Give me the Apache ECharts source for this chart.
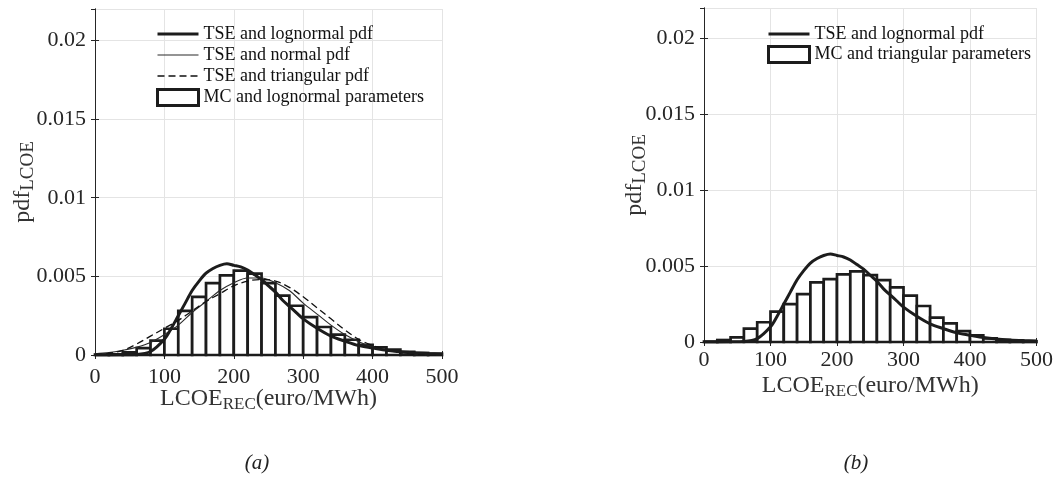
<!DOCTYPE html>
<html>
<head>
<meta charset="utf-8">
<script src="https://cdn.jsdelivr.net/npm/echarts@6/dist/echarts.min.js"></script>
<style>
  html, body { margin: 0; padding: 0; background: #ffffff; }
  #chart { width: 1056px; height: 479px; }
</style>
</head>
<body>
<div id="chart"></div>
<script>
// Histogram bin edges (euro/MWh), shared by both panels
const binEdges = [0, 20, 40, 60, 80, 100, 120, 140, 160, 180, 200, 220, 240,
                  260, 280, 300, 320, 340, 360, 380, 400, 420, 440, 460, 480, 500];

// Monte Carlo histograms (pdf height per bin)
const mcLognormalParams = [0.00003, 0.00004, 0.00017, 0.00044, 0.00091, 0.00167, 0.0028, 0.0037,
                           0.00457, 0.00506, 0.00536, 0.00517, 0.00457, 0.00377, 0.00313, 0.00241,
                           0.00178, 0.00129, 0.00097, 0.00065, 0.00048, 0.00034, 0.0002, 0.00013, 0.00008];
const mcTriangularParams = [0.00003, 0.00013, 0.0003, 0.00088, 0.0013, 0.002, 0.0025, 0.00316,
                            0.00393, 0.00414, 0.00445, 0.00465, 0.00441, 0.00408, 0.0036, 0.00305,
                            0.00237, 0.0016, 0.00123, 0.00072, 0.00044, 0.00024, 0.00013, 0.0001, 0.00005];

// TSE lognormal pdf (finer sampling around the mode)
const lognormalX = [0, 20, 40, 60, 80, 100, 110, 120, 130, 140, 150, 160, 170, 180, 190, 200,
                    210, 220, 230, 240, 250, 260, 270, 280, 290, 300,
                    320, 340, 360, 380, 400, 420, 440, 460, 480, 500];
const lognormalPdf = [0, 0, 0.00001, 0.00003, 0.00022, 0.001, 0.0017, 0.0025, 0.0033, 0.0041, 0.0047,
                      0.0052, 0.0055, 0.0057, 0.0058, 0.0057, 0.0056, 0.0054, 0.0051, 0.0048, 0.0044,
                      0.004, 0.0035, 0.0031, 0.0027, 0.0023,
                      0.0017, 0.0012, 0.00088, 0.0006, 0.00045, 0.0003, 0.0002, 0.00014, 0.0001, 0.00007];

// TSE normal and triangular pdfs
const pdfX = [0, 20, 40, 60, 80, 100, 120, 140, 160, 180, 200, 220, 240,
              260, 280, 300, 320, 340, 360, 380, 400, 420, 440, 460, 480, 500];
const normalPdf = [0.00008, 0.00015, 0.0003, 0.0005, 0.0008, 0.0013, 0.0019, 0.0027, 0.0034, 0.0041,
                   0.0046, 0.0049, 0.0049, 0.0046, 0.0041, 0.0033, 0.0026, 0.0019, 0.0013, 0.00085,
                   0.00052, 0.0003, 0.00016, 0.00008, 0.00004, 0.00002];
const triangularPdf = [0.00002, 0.0001, 0.0003, 0.0007, 0.0012, 0.0017, 0.0022, 0.0028, 0.0034, 0.0039,
                       0.0044, 0.0047, 0.0048, 0.0047, 0.0043, 0.0037, 0.003, 0.0023, 0.0016, 0.001,
                       0.0006, 0.0003, 0.00015, 0.00006, 0.00002, 0];

// Axis ticks
const xTickStep = 100;
const yTickStep = 0.005;
const xRange = [0, 500];
const yRange = [0, 0.022];

const SERIF = 'Liberation Serif';
const AXIS_COLOR = '#262626';
const INK = '#1c1c1c';

const pairs = (xs, ys) => xs.map((x, i) => [x, ys[i]]);
const bins = (heights) => heights.map((h, i) => [binEdges[i], binEdges[i + 1], h]);

function renderBin(params, api) {
  const p0 = api.coord([api.value(0), 0]);
  const p1 = api.coord([api.value(1), api.value(2)]);
  return {
    type: 'rect',
    shape: { x: p0[0], y: p1[1], width: p1[0] - p0[0], height: p0[1] - p1[1] },
    style: { fill: '#ffffff', stroke: INK, lineWidth: 2.7 }
  };
}

const xNameRich = {
  m: { fontFamily: SERIF, fontSize: 24, color: '#333333', lineHeight: 28 },
  s: { fontFamily: SERIF, fontSize: 17, color: '#333333', lineHeight: 28, padding: [11, 0, 0, 0] }
};
const yNameRich = {
  m: { fontFamily: SERIF, fontSize: 24, color: '#333333', lineHeight: 28 },
  s: { fontFamily: SERIF, fontSize: 19, color: '#333333', lineHeight: 28, padding: [10, 0, 0, 0] }
};

function xAxes(gridIndex, labelMargin, nameGap) {
  const base = {
    gridIndex, type: 'value', min: xRange[0], max: xRange[1], interval: xTickStep,
    axisLine: { show: true, lineStyle: { color: AXIS_COLOR, width: 1 } },
    axisTick: { show: true, inside: true, length: 4, lineStyle: { color: AXIS_COLOR } }
  };
  return [
    Object.assign({}, base, {
      position: 'bottom',
      axisLabel: { fontFamily: SERIF, fontSize: 22, color: AXIS_COLOR, margin: labelMargin },
      splitLine: { show: true, lineStyle: { color: '#e4e4e4', width: 1 } },
      name: '{m|LCOE}{s|REC}{m|(euro/MWh)}',
      nameLocation: 'middle', nameGap, nameMoveOverlap: false,
      nameTextStyle: { rich: xNameRich }
    }),
    Object.assign({}, base, {
      position: 'top', axisLabel: { show: false }, splitLine: { show: false }
    })
  ];
}

function yAxes(gridIndex, nameGap) {
  const base = {
    gridIndex, type: 'value', min: yRange[0], max: yRange[1], interval: yTickStep,
    axisLine: { show: true, lineStyle: { color: AXIS_COLOR, width: 1 } },
    axisTick: { show: true, inside: true, length: 4, lineStyle: { color: AXIS_COLOR } }
  };
  return [
    Object.assign({}, base, {
      position: 'left',
      axisLabel: {
        fontFamily: SERIF, fontSize: 22, color: AXIS_COLOR, margin: 9, showMaxLabel: false,
        formatter: (v) => (v === 0 ? '0' : String(+v.toFixed(3)))
      },
      splitLine: { show: true, lineStyle: { color: '#e4e4e4', width: 1 } },
      name: '{m|pdf}{s|LCOE}',
      nameLocation: 'middle', nameRotate: 90, nameGap, nameMoveOverlap: false,
      nameTextStyle: { rich: yNameRich }
    }),
    Object.assign({}, base, {
      position: 'right', axisLabel: { show: false }, splitLine: { show: false }
    })
  ];
}

const legendText = { fontFamily: SERIF, fontSize: 18, color: '#111111' };
const lineKey = (name, lineStyle) => ({ name, itemStyle: { opacity: 0 }, lineStyle });
const boxKey = (name) => ({ name, icon: 'rect',
  itemStyle: { color: '#ffffff', borderColor: INK, borderWidth: 3 } });

const option = {
  animation: false,
  backgroundColor: '#ffffff',
  title: [
    { text: '(a)', left: 257, top: 453, textAlign: 'center', padding: 0,
      textStyle: { fontFamily: SERIF, fontStyle: 'italic', fontWeight: 'normal', fontSize: 21, color: '#222222' } },
    { text: '(b)', left: 856, top: 453, textAlign: 'center', padding: 0,
      textStyle: { fontFamily: SERIF, fontStyle: 'italic', fontWeight: 'normal', fontSize: 21, color: '#222222' } }
  ],
  grid: [
    { left: 95, top: 9, width: 347, height: 346 },
    { left: 704, top: 8, width: 334, height: 334 }
  ],
  legend: [
    {
      orient: 'vertical', left: 156, top: 25, padding: 0, itemWidth: 41, itemHeight: 16, itemGap: 3,
      selectedMode: false, textStyle: legendText,
      data: [
        lineKey('TSE and lognormal pdf', { width: 3, color: INK }),
        lineKey('TSE and normal pdf', { width: 1.1, color: '#2a2a2a' }),
        lineKey('TSE and triangular pdf', { width: 1.3, color: '#111111', type: [7, 4] }),
        boxKey('MC and lognormal parameters')
      ]
    },
    {
      orient: 'vertical', left: 767, top: 25, padding: 0, itemWidth: 41, itemHeight: 16, itemGap: 2,
      selectedMode: false, textStyle: legendText,
      data: [
        lineKey('TSE and lognormal pdf', { width: 3, color: INK }),
        boxKey('MC and triangular parameters')
      ]
    }
  ],
  xAxis: [...xAxes(0, 11, 30), ...xAxes(1, 7, 30)],
  yAxis: [...yAxes(0, 58), ...yAxes(1, 55)],
  series: [
    {
      name: 'MC and lognormal parameters', type: 'custom', xAxisIndex: 0, yAxisIndex: 0,
      renderItem: renderBin, encode: { x: [0, 1], y: 2 }, z: 1,
      itemStyle: { color: '#ffffff', borderColor: INK, borderWidth: 3 },
      data: bins(mcLognormalParams)
    },
    {
      name: 'TSE and lognormal pdf', type: 'line', xAxisIndex: 0, yAxisIndex: 0,
      smooth: 0.3, symbol: 'none', z: 5,
      lineStyle: { color: INK, width: 3 }, itemStyle: { color: INK },
      data: pairs(lognormalX, lognormalPdf)
    },
    {
      name: 'TSE and normal pdf', type: 'line', xAxisIndex: 0, yAxisIndex: 0,
      smooth: 0.35, symbol: 'none', z: 4,
      lineStyle: { color: '#2a2a2a', width: 1.1 }, itemStyle: { color: '#2a2a2a' },
      data: pairs(pdfX, normalPdf)
    },
    {
      name: 'TSE and triangular pdf', type: 'line', xAxisIndex: 0, yAxisIndex: 0,
      smooth: 0.35, symbol: 'none', z: 4,
      lineStyle: { color: '#111111', width: 1.3, type: [7, 4] }, itemStyle: { color: '#111111' },
      data: pairs(pdfX, triangularPdf)
    },
    {
      name: 'MC and triangular parameters', type: 'custom', xAxisIndex: 2, yAxisIndex: 2,
      renderItem: renderBin, encode: { x: [0, 1], y: 2 }, z: 1,
      itemStyle: { color: '#ffffff', borderColor: INK, borderWidth: 3 },
      data: bins(mcTriangularParams)
    },
    {
      name: 'TSE and lognormal pdf', type: 'line', xAxisIndex: 2, yAxisIndex: 2,
      smooth: 0.3, symbol: 'none', z: 5,
      lineStyle: { color: INK, width: 3 }, itemStyle: { color: INK },
      data: pairs(lognormalX, lognormalPdf)
    }
  ]
};

const chart = echarts.init(document.getElementById('chart'), null, { renderer: 'canvas' });
chart.setOption(option);
</script>
</body>
</html>
